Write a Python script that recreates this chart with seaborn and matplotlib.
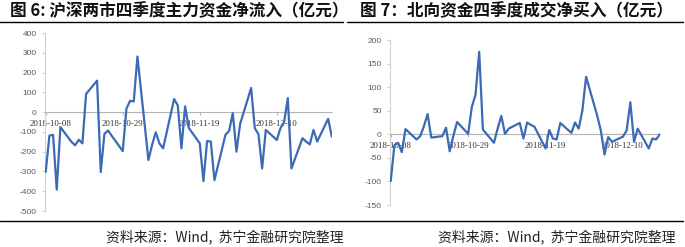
import matplotlib
matplotlib.use('Agg')
import matplotlib.pyplot as plt
import matplotlib.dates as mdates
import matplotlib.transforms as mtransforms
from matplotlib.lines import Line2D
import seaborn as sns
import pandas as pd

sns.set_theme(style='white')
plt.rcParams['font.family'] = ['Noto Sans CJK SC', 'DejaVu Sans']

# ---------------- data ----------------
trade_days = [
    '2018-10-08', '2018-10-09', '2018-10-10', '2018-10-11', '2018-10-12',
    '2018-10-15', '2018-10-16', '2018-10-17', '2018-10-18', '2018-10-19',
    '2018-10-22', '2018-10-23', '2018-10-24', '2018-10-25', '2018-10-26',
    '2018-10-29', '2018-10-30', '2018-10-31', '2018-11-01', '2018-11-02',
    '2018-11-05', '2018-11-06', '2018-11-07', '2018-11-08', '2018-11-09',
    '2018-11-12', '2018-11-13', '2018-11-14', '2018-11-15', '2018-11-16',
    '2018-11-19', '2018-11-20', '2018-11-21', '2018-11-22', '2018-11-23',
    '2018-11-26', '2018-11-27', '2018-11-28', '2018-11-29', '2018-11-30',
    '2018-12-03', '2018-12-04', '2018-12-05', '2018-12-06', '2018-12-07',
    '2018-12-10', '2018-12-11', '2018-12-12', '2018-12-13', '2018-12-14',
    '2018-12-17', '2018-12-18', '2018-12-19', '2018-12-20', '2018-12-21',
    '2018-12-24', '2018-12-25',
]

# Fig 6: main-force net inflow (through 2018-12-25)
main_inflow = [
    -302, -119, -115, -392, -76,
    -150, -168, -140, -158, 92,
    159, -303, -110, -93, -120,
    -197, 17, 57, 54, 281,
    -242, -166, -102, -158, -183,
    66, 34, -183, 29, -80,
    -158, -349, -146, -149, -344,
    -115, -95, -5, -200, -60,
    122, -81, -112, -285, -90,
    -141, -81, -50, 71, -285,
    -132, -149, -163, -90, -149,
    -34, -124,
]

# Fig 7: northbound net buy (through 2018-12-20)
north_net_buy = [
    -99, -23, -18, -38, 11,
    -11, -4, 17, 43, -7,
    -4, 14, -36, -3, 26,
    1, 58, 84, 175, 10,
    -18, 12, 39, 1, 12,
    24, -9, 25, 20, 16,
    -30, 9, -9, -11, 24,
    3, 25, 12, 51, 122,
    40, 8, -43, -6, -16,
    -5, 8, 68, -16, 12,
    -30, -9, -11, 0,
]

tick_dates = ['2018-10-08', '2018-10-29', '2018-11-19', '2018-12-10']
left_yticks = [-500, -400, -300, -200, -100, 0, 100, 200, 300, 400]
right_yticks = [-150, -100, -50, 0, 50, 100, 150, 200]

title_left = '图 6: 沪深两市四季度主力资金净流入（亿元）'
title_right = '图 7：北向资金四季度成交净买入（亿元）'
source_text = '资料来源：Wind,  苏宁金融研究院整理'

# ---------------- figure ----------------
W, H = 685, 247
fig = plt.figure(figsize=(W / 100, H / 100), dpi=100)

LINE_COLOR = '#3B6BB5'


def px_rect(x0, x1, ytop, ybot):
    return [x0 / W, 1 - ybot / H, (x1 - x0) / W, (ybot - ytop) / H]


def draw_panel(rect, dates, values, yticks, shift_first=0.0):
    ax = fig.add_axes(rect)
    df = pd.DataFrame({'date': pd.to_datetime(dates), 'value': values})
    sns.lineplot(data=df, x='date', y='value', ax=ax, color=LINE_COLOR,
                 linewidth=1.6, zorder=3)
    ax.set_xlabel('')
    ax.set_ylabel('')
    ax.grid(False)
    # spines first (set_position resets ticks)
    for s in ('top', 'right'):
        ax.spines[s].set_visible(False)
    ax.spines['bottom'].set_position(('data', 0))
    ax.spines['bottom'].set_color('#b5b5b5')
    ax.spines['bottom'].set_linewidth(0.8)
    ax.spines['left'].set_color('#d0d0d0')
    ax.spines['left'].set_linewidth(0.8)

    ax.set_ylim(yticks[0], yticks[-1])
    x0 = mdates.date2num(df['date'].iloc[0]) - 0.2
    x1 = mdates.date2num(df['date'].iloc[-1]) + 0.05
    ax.set_xlim(x0, x1)

    ax.tick_params(axis='y', length=2.5, width=0.8, color='#d0d0d0',
                   pad=3.5, direction='out', left=True,
                   labelsize=6, labelcolor='#595959')
    ax.tick_params(axis='x', length=2.5, width=0.8, color='#b5b5b5',
                   pad=3.0, direction='out', bottom=True,
                   labelsize=6.4, labelcolor='#333333')

    ax.set_yticks(yticks)
    ax.set_yticklabels([str(v) for v in yticks], fontfamily='Liberation Sans',
                       fontsize=6, color='#595959')
    td = pd.to_datetime(tick_dates)
    ax.set_xticks(mdates.date2num(td))
    labs = ax.set_xticklabels([d.strftime('%Y-%m-%d') for d in td],
                              fontfamily='Liberation Serif', fontsize=6.4,
                              color='#333333')
    if shift_first:
        labs[0].set_transform(labs[0].get_transform() +
                              mtransforms.ScaledTranslation(
                                  shift_first, 0, fig.dpi_scale_trans))
    ax.set_axisbelow(True)
    ax.patch.set_alpha(0)
    return ax


ax_l = draw_panel(px_rect(45, 332, 33, 211), trade_days, main_inflow,
                  left_yticks, shift_first=0.05)
ax_r = draw_panel(px_rect(390, 660, 40, 205),
                  trade_days[:len(north_net_buy)], north_net_buy, right_yticks)

# titles
fig.text(10 / W, 1 - 11.5 / H, title_left, fontsize=12, fontweight='bold',
         ha='left', va='center', color='#111111')
fig.text(360 / W, 1 - 11.5 / H, title_right, fontsize=12, fontweight='bold',
         ha='left', va='center', color='#111111')

# rules
for (xa, xb) in [(0, 343), (347, 683)]:
    fig.add_artist(Line2D([xa / W, xb / W], [1 - 22 / H, 1 - 22 / H],
                          transform=fig.transFigure, color='black', lw=1.0))
fig.add_artist(Line2D([0, 683 / W], [1 - 221 / H, 1 - 221 / H],
                      transform=fig.transFigure, color='black', lw=1.0))

# sources
fig.text(343 / W, 1 - 237 / H, source_text, fontsize=10, ha='right',
         va='center', color='#222222')
fig.text(675 / W, 1 - 237 / H, source_text, fontsize=10, ha='right',
         va='center', color='#222222')

fig.savefig('out.png', dpi=100)
